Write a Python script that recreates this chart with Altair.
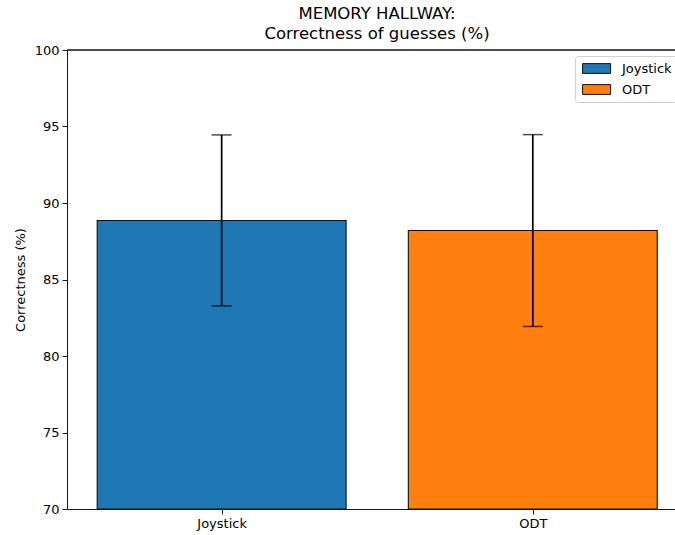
import altair as alt
import pandas as pd

# Memory hallway task: mean correctness per input method, with error bars
conditions = ["Joystick", "ODT"]
positions = [0, 1]
means = [88.86, 88.2]
errors = [5.59, 6.27]
colors = ["#1f77b4", "#ff7f0e"]
y_ticks = [70, 75, 80, 85, 90, 95, 100]

df = pd.DataFrame({"condition": conditions, "pos": positions,
                   "mean": means, "err": errors})

FONT = "DejaVu Sans"
W, H = 608, 459

base = alt.Chart(df).transform_calculate(
    left="datum.pos - 0.4",
    right="datum.pos + 0.4",
    lo="datum.mean - datum.err",
    hi="datum.mean + datum.err",
)

x_scale = alt.Scale(domain=[-0.497, 1.457], nice=False, zero=False)
y_scale = alt.Scale(domain=[70, 100], nice=False, zero=False)

x_axis = alt.Axis(values=positions, title=None,
                  labelExpr="datum.value == 0 ? 'Joystick' : 'ODT'",
                  grid=False, labelFont=FONT, labelFontSize=13, labelColor="#000",
                  labelPadding=3, tickSize=5, tickColor="#000", domainColor="#000",
                  domainWidth=0.9, tickWidth=0.9)
y_axis = alt.Axis(values=y_ticks, title="Correctness (%)", grid=False,
                  labelFont=FONT, labelFontSize=13, labelColor="#000", labelPadding=3,
                  tickSize=5, tickColor="#000", domainColor="#000", domainWidth=0.9,
                  tickWidth=0.9, titleFont=FONT, titleFontSize=13, titleFontWeight="normal",
                  titleColor="#000", titlePadding=7)

# wide rectangular legend swatch, offset so it sits inside the legend box
swatch = "M-0.7,-0.7H3.3V0.7H-0.7Z"

bars = base.mark_bar(stroke="#111", strokeWidth=1.1, opacity=1).encode(
    x=alt.X("left:Q", scale=x_scale, axis=x_axis),
    x2="right:Q",
    y=alt.Y("mean:Q", scale=y_scale, axis=y_axis),
    y2=alt.datum(70),
    color=alt.Color(
        "condition:N",
        scale=alt.Scale(domain=conditions, range=colors),
        legend=alt.Legend(
            title=None, orient="none", legendX=508, legendY=6,
            symbolType=swatch, symbolSize=196,
            symbolStrokeColor="#111", symbolStrokeWidth=1, symbolOpacity=1,
            labelFont=FONT, labelFontSize=13, labelColor="#000", labelOffset=27,
            rowPadding=6, padding=5, fillColor="white", strokeColor="#d0d0d0",
            cornerRadius=3,
        ),
    ),
)

whiskers = base.mark_rule(color="black", strokeWidth=1.7).encode(
    x=alt.X("pos:Q", scale=x_scale), y=alt.Y("lo:Q", scale=y_scale), y2="hi:Q"
)
cap_lo = base.mark_tick(color="black", orient="horizontal", size=20, thickness=1.5).encode(
    x=alt.X("pos:Q", scale=x_scale), y=alt.Y("lo:Q", scale=y_scale)
)
cap_hi = base.mark_tick(color="black", orient="horizontal", size=20, thickness=1.5).encode(
    x=alt.X("pos:Q", scale=x_scale), y=alt.Y("hi:Q", scale=y_scale)
)

# top spine
top = alt.Chart(df).mark_rule(color="#000", strokeWidth=0.9).encode(
    y=alt.value(0), x=alt.value(0), x2=alt.value(W)
)

chart = alt.layer(bars, whiskers, cap_lo, cap_hi, top).properties(
    width=W, height=H,
    title=alt.TitleParams(["MEMORY HALLWAY:", "Correctness of guesses (%)"],
                          font=FONT, fontSize=16.5, fontWeight="normal", color="#000",
                          anchor="middle", dx=6, offset=2, lineHeight=20),
    autosize=alt.AutoSizeParams(type="none"),
    padding={"left": 67, "top": 50, "right": 0, "bottom": 26},
).configure_view(stroke=None)

chart.save("out.html", embed_options={"renderer": "svg", "actions": False})
